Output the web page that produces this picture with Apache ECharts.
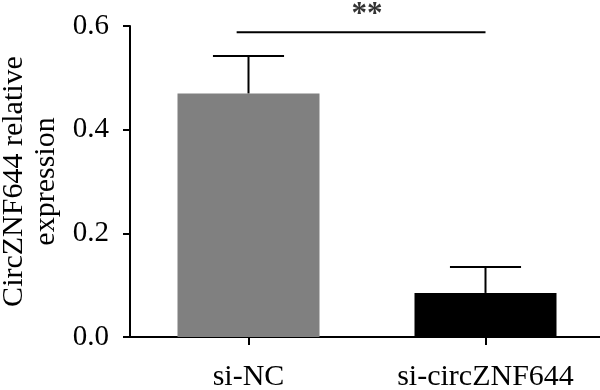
<!DOCTYPE html>
<html>
<head>
<meta charset="utf-8">
<script src="https://cdn.jsdelivr.net/npm/echarts@6/dist/echarts.min.js"></script>
<style>html,body{margin:0;padding:0;background:#fff}#c{width:600px;height:390px}</style>
</head>
<body>
<div id="c"></div>
<script>
const categories = ['si-NC', 'si-circZNF644'];
const means = [0.47, 0.085];
const errors = [0.072, 0.05];
const barColors = ['#808080', '#000000'];
const yTicks = [0, 0.2, 0.4, 0.6];
const sigLevel = 0.588;
const sigSpan = [-0.05, 1.0];
const sigTextX = 0.5;
const sigText = '**';

const FONT = "'Liberation Serif', 'DejaVu Serif', serif";
const chart = echarts.init(document.getElementById('c'), null, {renderer: 'canvas'});

const barData = means.map((v, i) => ({value: v, itemStyle: {color: barColors[i]}}));
const errData = means.map((v, i) => [i, v, v + errors[i]]);

chart.setOption({
  animation: false,
  backgroundColor: '#ffffff',
  grid: {left: 130, top: 26, bottom: 53, right: -4, containLabel: false, outerBoundsMode: 'none'},
  xAxis: [{
    type: 'category',
    data: categories,
    axisLine: {show: true, onZero: false, lineStyle: {color: '#000', width: 2}},
    axisTick: {show: true, alignWithLabel: true, length: 8, lineStyle: {color: '#000', width: 2}},
    axisLabel: {color: '#000', fontFamily: FONT, fontSize: 30, margin: 25, interval: 0, hideOverlap: false},
    splitLine: {show: false}
  }, {
    type: 'value', min: -0.5, max: 1.5, show: false, position: 'top'
  }],
  yAxis: {
    type: 'value',
    min: yTicks[0], max: yTicks[yTicks.length - 1], interval: 0.2,
    name: 'CircZNF644 relative\nexpression',
    nameLocation: 'middle',
    nameRotate: 90,
    nameGap: 59,
    nameTextStyle: {color: '#000', fontFamily: FONT, fontSize: 30, lineHeight: 32},
    axisLine: {show: true, onZero: false, lineStyle: {color: '#000', width: 2}},
    axisTick: {show: true, length: 7, lineStyle: {color: '#000', width: 2}},
    axisLabel: {color: '#000', fontFamily: FONT, fontSize: 29, margin: 21,
      formatter: v => v.toFixed(1)},
    splitLine: {show: false}
  },
  series: [{
    type: 'bar',
    data: barData,
    barWidth: 142,
    z: 2
  }, {
    type: 'custom',
    data: errData,
    z: 3,
    renderItem: function (params, api) {
      const x = api.value(0);
      const p0 = api.coord([x, api.value(1)]);
      const p1 = api.coord([x, api.value(2)]);
      const half = api.size([1, 0])[0] * 0.15;
      const style = {stroke: '#000', lineWidth: 2};
      return {
        type: 'group',
        children: [
          {type: 'line', shape: {x1: p0[0], y1: p0[1], x2: p1[0], y2: p1[1]}, style: style},
          {type: 'line', shape: {x1: p1[0] - half, y1: p1[1], x2: p1[0] + half, y2: p1[1]}, style: style}
        ]
      };
    }
  }, {
    type: 'line',
    xAxisIndex: 1,
    data: [[sigSpan[0], sigLevel], [sigSpan[1], sigLevel]],
    symbol: 'none',
    lineStyle: {color: '#000', width: 2},
    z: 4
  }, {
    type: 'scatter',
    xAxisIndex: 1,
    data: [[sigTextX, sigLevel]],
    symbolSize: 0,
    label: {show: true, position: 'top', distance: 2, formatter: sigText,
      color: '#000', fontFamily: FONT, fontSize: 31, fontWeight: 'bold'},
    z: 4
  }]
});
</script>
</body>
</html>
